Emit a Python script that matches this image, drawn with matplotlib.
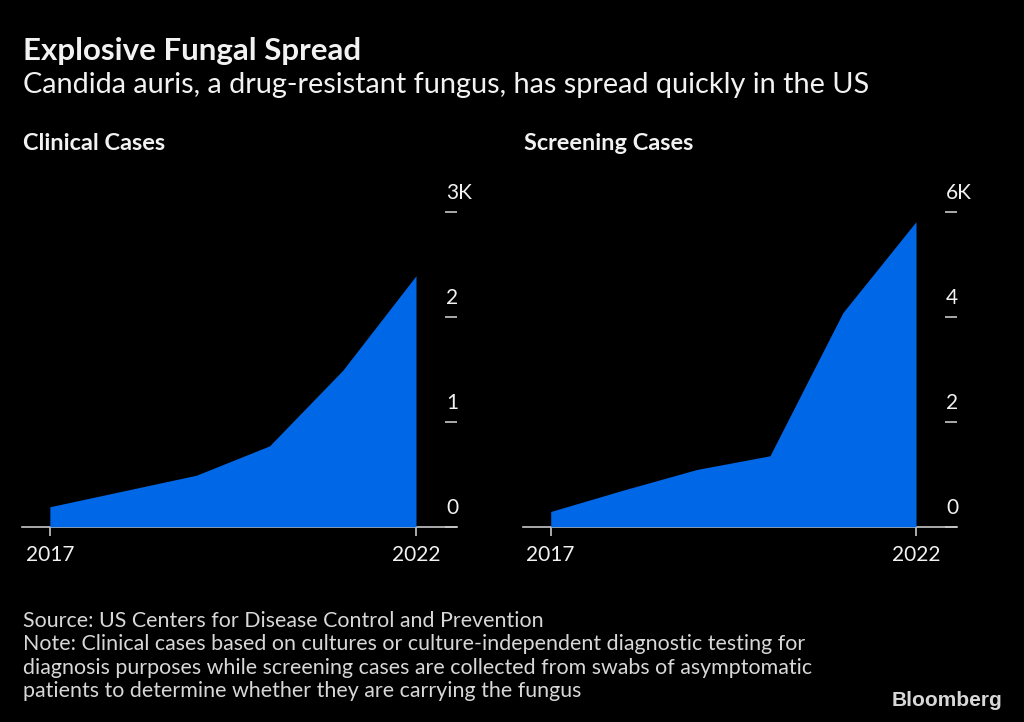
import matplotlib.pyplot as plt
import matplotlib.transforms as mtransforms

plt.rcParams['font.family'] = ['Lato', 'DejaVu Sans']

# Data (thousands of cases)
years = [2017, 2018, 2019, 2020, 2021, 2022]
clinical = [0.19, 0.34, 0.49, 0.77, 1.49, 2.39]
screening = [0.29, 0.70, 1.09, 1.35, 4.08, 5.81]
clinical_ticks = [0, 1, 2, 3]
clinical_labels = ['0', '1', '2', '3K']
screening_ticks = [0, 2, 4, 6]
screening_labels = ['0', '2', '4', '6K']

BG = 'black'
BLUE = '#0068E6'
GREY = '#c8c8c8'
TEXT = '#f2f2f2'

fig = plt.figure(figsize=(10.24, 7.22), dpi=100, facecolor=BG)


def panel(rect, values, ticks, labels, title):
    ax = fig.add_axes(rect, facecolor=BG)
    ax.fill_between(years, 0, values, color=BLUE, linewidth=0, zorder=2)
    ax.set_xlim(2016.62, 2022.56)
    ax.set_ylim(0, ticks[-1])
    for s in ['top', 'left', 'right']:
        ax.spines[s].set_visible(False)
    ax.spines['bottom'].set_color(GREY)
    ax.spines['bottom'].set_linewidth(1.2)
    ax.spines['bottom'].set_zorder(1)
    ax.set_xticks([years[0], years[-1]])
    ax.set_xticklabels([str(years[0]), str(years[-1])])
    ax.tick_params(axis='x', colors=GREY, labelcolor=TEXT, length=6.5,
                   width=1.2, direction='out', pad=7, labelsize=15)
    ax.yaxis.tick_right()
    ax.set_yticks(ticks)
    ax.set_yticklabels([])
    ax.tick_params(axis='y', colors=GREY, length=8.6, width=1.2,
                   direction='in')
    trans = mtransforms.blended_transform_factory(ax.transAxes, ax.transData)
    off = mtransforms.offset_copy(trans, fig=fig, x=0, y=9, units='dots')
    for t, lab in zip(ticks, labels):
        ax.text(0.975, t, lab, transform=off, ha='left', va='bottom',
                color=TEXT, fontsize=15, clip_on=False)
    fig.text(rect[0] + 0.0008, 0.792, title, color=TEXT, fontsize=16.9,
             fontweight='bold', ha='left', va='baseline')
    return ax


panel([0.0215, 0.2705, 0.4248, 0.4363], clinical, clinical_ticks,
      clinical_labels, 'Clinical Cases')
panel([0.5107, 0.2705, 0.4238, 0.4363], screening, screening_ticks,
      screening_labels, 'Screening Cases')

fig.text(0.0225, 0.917, 'Explosive Fungal Spread', color=TEXT, fontsize=22.5,
         fontweight='bold', ha='left', va='baseline')
fig.text(0.0225, 0.871,
         'Candida auris, a drug-resistant fungus, has spread quickly in the US',
         color=TEXT, fontsize=20.8, ha='left', va='baseline')

footer = ['Source: US Centers for Disease Control and Prevention',
          'Note: Clinical cases based on cultures or culture-independent diagnostic testing for',
          'diagnosis purposes while screening cases are collected from swabs of asymptomatic',
          'patients to determine whether they are carrying the fungus']
for i, line in enumerate(footer):
    fig.text(0.0225, 1 - (626.7 + i * 23.5) / 722, line, color='#d8d8d8',
             fontsize=15.4, ha='left', va='baseline')

fig.text(0.979, 1 - 706 / 722, 'Bloomberg', color='#d8d8d8', fontsize=15,
         fontweight='bold', family=['Liberation Sans', 'DejaVu Sans'],
         ha='right', va='baseline')

fig.savefig('out.png', dpi=100, facecolor=BG)
